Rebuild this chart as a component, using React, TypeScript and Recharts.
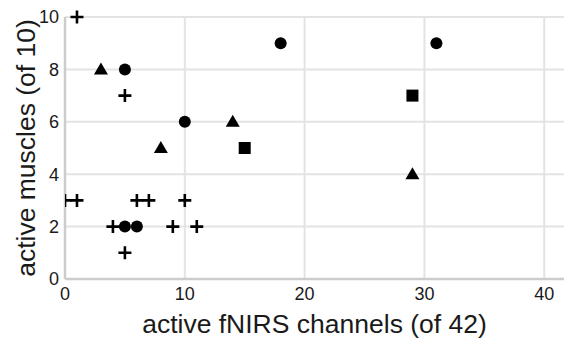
import React from 'react';
import { ScatterChart, Scatter, XAxis, YAxis, CartesianGrid } from 'recharts';

const plusX = [1, 5, 0, 1, 6, 7, 10, 4, 9, 11, 5];
const plusY = [10, 7, 3, 3, 3, 3, 3, 2, 2, 2, 1];
const circleX = [5, 10, 18, 31, 5, 6];
const circleY = [8, 6, 9, 9, 2, 2];
const triangleX = [3, 8, 14, 29];
const triangleY = [8, 5, 6, 4];
const squareX = [15, 29];
const squareY = [5, 7];
const xTicks = [0, 10, 20, 30, 40];
const yTicks = [0, 2, 4, 6, 8, 10];
const xTitle = 'active fNIRS channels (of 42)';
const yTitle = 'active muscles (of 10)';

const zip = (xs: number[], ys: number[]) => xs.map((x, i) => ({ x, y: ys[i] }));

const PlusShape = (p: any) => (
  <path
    d={`M${p.cx - 6.5},${p.cy}H${p.cx + 6.5}M${p.cx},${p.cy - 6.5}V${p.cy + 6.5}`}
    stroke="#000"
    strokeWidth={2.6}
    fill="none"
  />
);
const CircleShape = (p: any) => <circle cx={p.cx} cy={p.cy} r={6} fill="#000" />;
const TriangleShape = (p: any) => (
  <path d={`M${p.cx},${p.cy - 7}L${p.cx + 7},${p.cy + 5}L${p.cx - 7},${p.cy + 5}Z`} fill="#000" />
);
const SquareShape = (p: any) => <rect x={p.cx - 6} y={p.cy - 6} width={12} height={12} fill="#000" />;

const font = 'Liberation Sans, Arial, sans-serif';

export default function App() {
  return (
    <div style={{ position: 'absolute', left: 0, top: 0, width: 564, height: 340, background: '#fff' }}>
      <ScatterChart width={564} height={340} margin={{ top: 17, right: 0, bottom: 0, left: 0 }}>
        <CartesianGrid stroke="#e3e3e3" strokeWidth={2} horizontalValues={yTicks} verticalValues={xTicks} />
        <XAxis
          type="number"
          dataKey="x"
          domain={[0, 41.65]}
          ticks={xTicks}
          allowDataOverflow
          height={61}
          tickSize={0}
          tickMargin={8}
          tickLine={false}
          axisLine={{ stroke: '#cccccc', strokeWidth: 2.5 }}
          tick={{ fill: '#1a1a1a', fontSize: 18, fontFamily: font }}
          label={{ value: xTitle, position: 'insideBottom', offset: 7, fill: '#1a1a1a', fontSize: 26.5, fontFamily: font }}
        />
        <YAxis
          type="number"
          dataKey="y"
          domain={[0, 10]}
          ticks={yTicks}
          width={65}
          tickSize={0}
          tickMargin={6}
          tickLine={false}
          axisLine={{ stroke: '#cccccc', strokeWidth: 2.5 }}
          tick={{ fill: '#1a1a1a', fontSize: 18, fontFamily: font }}
          label={{
            value: yTitle,
            angle: -90,
            position: 'insideLeft',
            offset: 26,
            fill: '#1a1a1a',
            fontSize: 26.5,
            fontFamily: font,
            style: { textAnchor: 'middle' },
          }}
        />
        <Scatter data={zip(plusX, plusY)} shape={PlusShape} isAnimationActive={false} />
        <Scatter data={zip(circleX, circleY)} shape={CircleShape} isAnimationActive={false} />
        <Scatter data={zip(triangleX, triangleY)} shape={TriangleShape} isAnimationActive={false} />
        <Scatter data={zip(squareX, squareY)} shape={SquareShape} isAnimationActive={false} />
      </ScatterChart>
    </div>
  );
}
